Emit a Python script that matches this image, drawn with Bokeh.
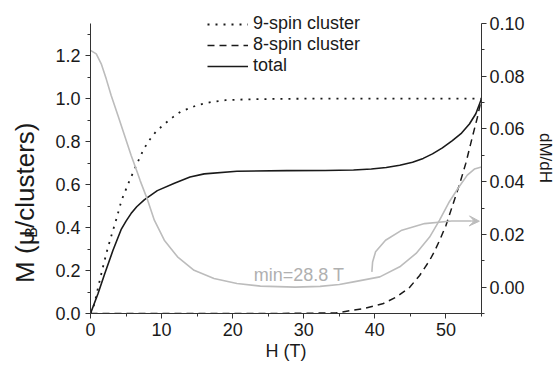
import math
from bokeh.plotting import figure
from bokeh.layouts import row
from bokeh.models import (Range1d, LinearAxis, FixedTicker, Label, Legend,
                          LegendItem, Arrow, VeeHead, CustomJSTickFormatter)
from bokeh.embed import file_html
from bokeh.resources import INLINE

# ---------------- data ----------------
H9 = [0, 0.56, 1.1, 1.67, 2.27, 2.97, 3.67, 4.36, 5.29, 6.36, 7.5, 8.3, 9.24,
      10.4, 11.56, 12.7, 13.9, 15, 17, 19, 22, 26, 30, 40, 55]
M9 = [0, 0.045, 0.126, 0.205, 0.285, 0.366, 0.443, 0.526, 0.603, 0.684, 0.766,
      0.808, 0.848, 0.882, 0.913, 0.94, 0.955, 0.97, 0.985, 0.993, 0.997,
      0.999, 1.0, 1.0, 1.0]

H8 = [0, 25, 30, 34.6, 38.3, 41.1, 43, 44.9, 46.3, 47.7, 48.4, 49.1, 50, 50.9,
      51.9, 52.8, 53.7, 54.4, 55]
M8 = [0, 0, 0.001, 0.003, 0.022, 0.045, 0.076, 0.122, 0.177, 0.247, 0.29,
      0.34, 0.41, 0.5, 0.6, 0.7, 0.82, 0.91, 1.0]

HT = [0, 1.05, 2.0, 3.15, 4.3, 5.0, 5.7, 6.5, 7.6, 9.4, 11.8, 14, 16, 20.6,
      27.6, 33, 37, 39.5, 41.6, 43.5, 45.3, 46.8, 48.1, 49.5, 50.9, 52.2, 53.3,
      54.2, 55]
MT = [0, 0.092, 0.185, 0.293, 0.39, 0.43, 0.465, 0.497, 0.53, 0.572, 0.606,
      0.635, 0.65, 0.662, 0.665, 0.666, 0.668, 0.673, 0.68, 0.69, 0.704, 0.722,
      0.743, 0.771, 0.805, 0.84, 0.882, 0.93, 1.0]

HD = [0, 0.81, 1.51, 2.21, 2.91, 3.85, 4.78, 5.71, 6.64, 6.97, 8.04, 8.98,
      10.38, 12.24, 14.57, 17.37, 20.6, 23.9, 27.6, 28.8, 32.3, 35, 37, 40.7,
      43.5, 45.8, 47.7, 49.1, 50.5, 51.7, 53.0, 54.0, 55]
DD = [0.0898, 0.0885, 0.0847, 0.079, 0.0727, 0.0652, 0.0576, 0.05, 0.0431,
      0.0405, 0.033, 0.0254, 0.0178, 0.0115, 0.0064, 0.0033, 0.0014, 0.0004,
      0.0001, 0.0, 0.0003, 0.001, 0.002, 0.0039, 0.0077, 0.0128, 0.019,
      0.0254, 0.0325, 0.0375, 0.0425, 0.0448, 0.0456]

# arrow path (dM/dH units)
HA = [39.58, 39.68, 40.1, 41.5, 43.8, 47.0, 50.8, 53.6]
DA = [0.0058, 0.0095, 0.0134, 0.0178, 0.0216, 0.0241, 0.0251, 0.0251]
ARROW_TIP = (54.7, 0.025)

X_TICKS = [0, 10, 20, 30, 40, 50]
X_MINOR = [5, 15, 25, 35, 45, 55]
L_TICKS = [0.0, 0.2, 0.4, 0.6, 0.8, 1.0, 1.2]
L_MINOR = [0.1, 0.3, 0.5, 0.7, 0.9, 1.1, 1.3]
R_TICKS = [0.0, 0.02, 0.04, 0.06, 0.08, 0.10]
R_MINOR = [-0.01, 0.01, 0.03, 0.05, 0.07, 0.09]

LEGEND_LABELS = ["9-spin cluster", "8-spin cluster", "total"]
MIN_TEXT = "min=28.8 T"
MIN_POS = (22.97, 0.00455)
X_TITLE = "H (T)"
R_TITLE = "dM/dH"
L_TITLE = ("M (\u03bc", "B", "/clusters)")

# ---------------- layout (canvas px == page px) ----------------
W, H = 557, 366
LW = 44                      # left title strip width
FL, FR, FT, FB = 90, 485, 23, 313   # axis box of the reference
TOP = 2                      # frame top (extended so the legend is not clipped)
XR = (0.0, 55.0)
LB = (0.0, 1.35)             # left axis extent
RB = (-0.01, 0.10)           # right axis extent
l_top = LB[0] + (FB - TOP) * (LB[1] - LB[0]) / (FB - FT)
r_top = RB[0] + (FB - TOP) * (RB[1] - RB[0]) / (FB - FT)

FONT = "Liberation Sans"
GRAY = "#bcbcbc"
INK = "#1a1a1a"

p = figure(width=W - LW, height=H, x_range=Range1d(*XR), y_range=Range1d(LB[0], l_top),
           output_backend="svg", toolbar_location=None,
           min_border_left=FL - LW, min_border_right=W - FR,
           min_border_top=TOP, min_border_bottom=H - FB)
p.extra_y_ranges = {"r": Range1d(RB[0], r_top)}
p.outline_line_color = None
p.xgrid.visible = False
p.ygrid.visible = False
p.background_fill_color = "white"
p.border_fill_color = "white"

right = LinearAxis(y_range_name="r")
p.add_layout(right, "right")


def style_axis(ax, ticks, minor, nd):
    ax.ticker = FixedTicker(ticks=ticks, minor_ticks=minor)
    ax.axis_line_color = "#333333"
    ax.axis_line_width = 1
    ax.major_tick_line_color = "#333333"
    ax.minor_tick_line_color = "#333333"
    ax.major_tick_in = 0
    ax.major_tick_out = 5
    ax.minor_tick_in = 0
    ax.minor_tick_out = 3
    ax.major_label_text_font = FONT
    ax.major_label_text_font_size = "18px"
    ax.major_label_text_color = INK
    ax.major_label_standoff = 3
    ax.axis_label_text_font = FONT
    ax.axis_label_text_font_style = "normal"
    ax.axis_label_text_color = INK
    ax.formatter = CustomJSTickFormatter(code=f"return tick.toFixed({nd});")


style_axis(p.xaxis[0], X_TICKS, X_MINOR, 0)
style_axis(p.yaxis[0], L_TICKS, L_MINOR, 1)
style_axis(right, R_TICKS, R_MINOR, 2)
p.yaxis[0].bounds = LB
right.bounds = RB
p.yaxis[0].major_label_standoff = 5
p.yaxis[0].axis_label = None

p.xaxis[0].major_label_standoff = 4
p.xaxis[0].axis_label = X_TITLE
p.xaxis[0].axis_label_text_font_size = "18px"
p.xaxis[0].axis_label_standoff = 2

right.axis_label = R_TITLE
right.axis_label_text_font_size = "17px"
right.axis_label_standoff = 8

# ---------------- curves ----------------
r9 = p.line(H9, M9, line_color=INK, line_width=1.8, line_dash="2 6")
r8 = p.line(H8, M8, line_color=INK, line_width=1.5, line_dash="7 5")
rt = p.line(HT, MT, line_color=INK, line_width=1.6)
p.line(HD, DD, y_range_name="r", line_color=GRAY, line_width=1.6)

p.line(HA, DA, y_range_name="r", line_color=GRAY, line_width=1.6)
p.add_layout(Arrow(end=VeeHead(size=10, line_color=GRAY, fill_color=GRAY, line_width=1),
                   x_start=HA[-1], y_start=DA[-1], x_end=ARROW_TIP[0], y_end=ARROW_TIP[1],
                   y_range_name="r", line_color=GRAY, line_width=1.6))

p.add_layout(Label(x=MIN_POS[0], y=MIN_POS[1], y_range_name="r", text=MIN_TEXT,
                   text_font=FONT, text_font_size="18px", text_color="#b0b0b0",
                   text_align="left", text_baseline="alphabetic"))

# ---------------- legend ----------------
leg = Legend(items=[LegendItem(label=LEGEND_LABELS[0], renderers=[r9]),
                    LegendItem(label=LEGEND_LABELS[1], renderers=[r8]),
                    LegendItem(label=LEGEND_LABELS[2], renderers=[rt])],
             location=(117, 237), orientation="vertical",
             background_fill_alpha=0, border_line_color=None,
             padding=0, margin=0, spacing=0,
             glyph_width=41, glyph_height=20, label_height=20,
             label_standoff=5, label_text_font=FONT,
             label_text_font_size="18px", label_text_color=INK)
p.add_layout(leg, "center")

# ---------------- left title strip: M (mu_B/clusters) ----------------
LF = 26
lf = figure(width=LW, height=H, x_range=Range1d(0, LW), y_range=Range1d(0, H),
            x_axis_type=None, y_axis_type=None, output_backend="svg",
            toolbar_location=None, min_border=0)
lf.outline_line_color = None
lf.background_fill_color = "white"
lf.border_fill_color = "white"
cx = 24
y0 = H - 330
w1 = 2.02 * LF
SF = int(LF * 0.62)
lf.add_layout(Label(x=cx, y=y0, text=L_TITLE[0], angle=math.pi / 2,
                    text_font=FONT, text_font_size=f"{LF}px", text_color=INK,
                    text_align="left", text_baseline="middle"))
lf.add_layout(Label(x=cx + 7, y=y0 + w1 + 0.5, text=L_TITLE[1], angle=math.pi / 2,
                    text_font=FONT, text_font_size=f"{SF}px", text_color=INK,
                    text_align="left", text_baseline="middle"))
w2 = 0.667 * SF + 1.5
lf.add_layout(Label(x=cx, y=y0 + w1 + w2, text=L_TITLE[2], angle=math.pi / 2,
                    text_font=FONT, text_font_size=f"{LF}px", text_color=INK,
                    text_align="left", text_baseline="middle"))

layout = row(lf, p, spacing=0)
open("out.html", "w").write(file_html(layout, INLINE))
